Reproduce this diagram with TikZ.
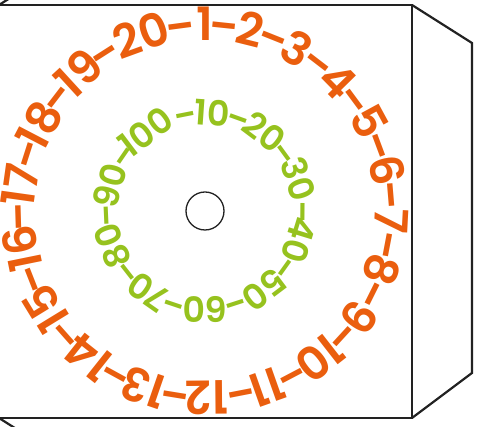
\documentclass[tikz,border=0pt]{standalone}
\usepackage{fontspec}
\setmainfont{Poppins}[UprightFont=* SemiBold]
\definecolor{numorange}{RGB}{234,94,14}
\definecolor{numgreen}{RGB}{150,194,30}
\definecolor{netline}{RGB}{34,34,34}
\newcommand{\longdash}{\scalebox{1.15}[1]{-}}

\begin{document}
\begin{tikzpicture}[x=1pt, y=1pt,
  netedge/.style={draw=netline, line width=2.2pt, line join=miter},
  bignum/.style={text=numorange, font=\fontsize{46}{46}\selectfont, inner sep=0pt, anchor=base},
  smallnum/.style={text=numgreen, font=\fontsize{35}{35}\selectfont, inner sep=0pt, anchor=base}]
\useasboundingbox (-205,-216) rectangle (280,211);
\clip (-205,-216) rectangle (280,211);

% sheet with its flaps
\draw[netedge] (-206,206) rectangle (207,-207);
\draw[netedge] (207,206) -- (267,168) -- (267,-162) -- (207,-207);
\draw[netedge] (-206,206) -- (-146,244);
\draw[netedge] (-206,-207) -- (-146,-245);

\node[draw=netline, circle, line width=1.3pt, minimum size=38pt, inner sep=0pt] (hole) at (0,0) {};

% outer ring 1..20
\foreach \n/\a in {1/0, 2/14, 3/29.5, 4/45.5, 5/61.5, 6/77.5, 7/93, 8/108.5, 9/124.5, 10/142,
    11/160.5, 12/179.5, 13/199, 14/218.5, 15/238.5, 16/258.5, 17/278, 18/297.5, 19/317.5, 20/340}
  \node[bignum, rotate=-\a] (out\n) at ({90-\a}:170) {\n};
\foreach \k/\a in {1/6, 2/21.75, 3/37.5, 4/53.5, 5/69.5, 6/85.25, 7/100.75, 8/116.5, 9/132.5, 10/152.25,
    11/169, 12/189.25, 13/208.75, 14/228.5, 15/248.5, 16/268.25, 17/287.75, 18/307.5, 19/327.5, 20/352.5}
  \node[bignum, rotate=-\a] (outdash\k) at ({90-\a}:170) {\longdash};

% inner ring 10..100
\foreach \n/\a in {10/4, 20/37, 30/71, 40/107, 50/143, 60/180, 70/215, 80/249.5, 90/285, 100/323}
  \node[smallnum, rotate=-\a] (in\n) at ({90-\a}:85.8) {\n};
\foreach \k/\a in {1/19.8, 2/54, 3/90.5, 4/125.5, 5/162, 6/198.5, 7/232, 8/267.5, 9/304.5, 10/348.8}
  \node[smallnum, rotate=-\a] (indash\k) at ({90-\a}:85.8) {\longdash};
\end{tikzpicture}
\end{document}
